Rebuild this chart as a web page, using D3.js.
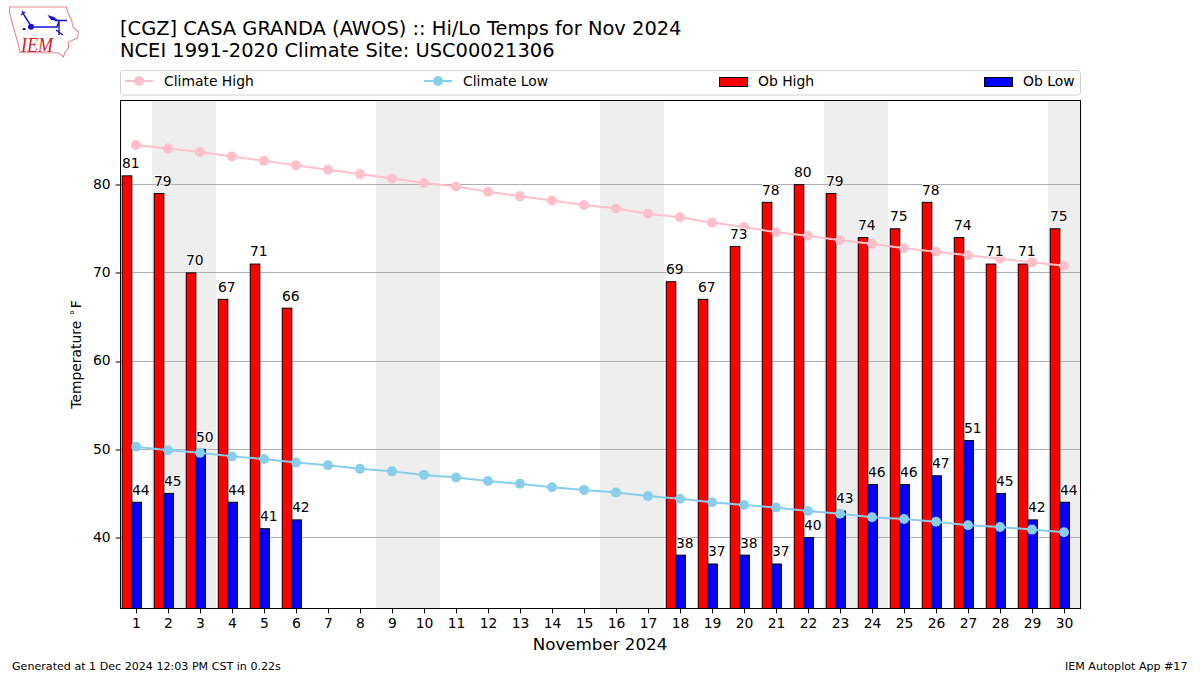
<!DOCTYPE html>
<html><head><meta charset="utf-8">
<script src="https://cdn.jsdelivr.net/npm/d3@7"></script>
<style>html,body{margin:0;padding:0;background:#fff}svg{display:block}text{font-family:"DejaVu Sans",sans-serif;fill:#000}</style>
</head><body><div id="chart"></div>
<script>
const days = d3.range(1, 31);
const obHigh = [81,79,70,67,71,66,null,null,null,null,null,null,null,null,null,null,null,69,67,73,78,80,79,74,75,78,74,71,71,75];
const obLow = [44,45,50,44,41,42,null,null,null,null,null,null,null,null,null,null,null,38,37,38,37,40,43,46,46,47,51,45,42,44];
const climateHigh = [84.5,84.1,83.7,83.2,82.7,82.2,81.7,81.2,80.7,80.2,79.8,79.2,78.7,78.2,77.7,77.3,76.7,76.3,75.7,75.2,74.6,74.2,73.7,73.3,72.8,72.4,72.0,71.6,71.2,70.8];
const climateLow = [50.3,49.9,49.6,49.2,48.9,48.5,48.2,47.8,47.5,47.1,46.8,46.4,46.1,45.7,45.4,45.1,44.7,44.4,44.0,43.7,43.4,43.0,42.7,42.3,42.1,41.8,41.4,41.2,40.9,40.6];
const weekendSpans = [[1.5,3.5],[8.5,10.5],[15.5,17.5],[22.5,24.5],[29.5,30.5]];
const yTicks = [40,50,60,70,80];
const titleLines = ["[CGZ] CASA GRANDA (AWOS) :: Hi/Lo Temps for Nov 2024","NCEI 1991-2020 Climate Site: USC00021306"];
const xLabel = "November 2024";
const footLeft = "Generated at 1 Dec 2024 12:03 PM CST in 0.22s", footRight = "IEM Autoplot App #17";
const colors = {high:"#ff0000",low:"#0000ff",cHigh:"#ffc0cb",cLow:"#87ceeb"};

const L=120.5,R=1080.5,T=100.5,B=608.5;
const svg=d3.select("#chart").append("svg").attr("width",1200).attr("height",675);
const x=d3.scaleLinear().domain([0.5,30.5]).range([120,1080]);
const y=d3.scaleLinear().domain([32,89.6]).range([608.1,100]);

// logo
const logo=svg.append("g");
logo.append("path").attr("fill","none").attr("stroke","#e58a92").attr("stroke-width",1.1)
 .attr("d","M9.5 7 L66.5 7 L68 13 L71.5 20 L73 27 L78.5 32 L77.5 38 L68.5 42 L68.5 48 L65 52 L63.5 57 L59 53 L20 52.5 L18 43 L15 33 L11.5 20 L9.5 12 Z");
logo.append("path").attr("fill","none").attr("stroke","#1414d2").attr("stroke-width",1.4)
 .attr("d","M22 11 L24 15 M21 15 L25 12 M24 15 L31 26 M31 27 H57 L59 21 M55 20.5 H67 M59 21 V35 M56 30 L63 35");
logo.append("circle").attr("cx",31).attr("cy",26.8).attr("r",3).attr("fill","#1414d2");
logo.append("path").attr("fill","#1414d2").attr("d","M47.5 15 L54 17 L59 21 L51 20 Z M23 28 L25 28 L26 30 L22.5 30 Z");
logo.append("text").attr("x",21).attr("y",52).style("font-family","'Liberation Serif',serif").attr("font-style","italic").attr("font-size",22).attr("textLength",32).attr("lengthAdjust","spacingAndGlyphs").style("fill","#d8202a").text("IEM");

// titles
svg.selectAll("text.title").data(titleLines).join("text").attr("class","title")
 .attr("x",120).attr("y",(d,i)=>35+i*22).attr("font-size",19.46).text(d=>d);

// plot background
svg.append("g").selectAll("rect").data(weekendSpans).join("rect")
 .attr("x",d=>x(d[0])).attr("width",d=>x(d[1])-x(d[0])).attr("y",T).attr("height",B-T).attr("fill","#eeeeee");

// grid
svg.append("g").selectAll("line").data(yTicks).join("line")
 .attr("x1",L).attr("x2",R).attr("y1",d=>Math.floor(y(d))+0.5).attr("y2",d=>Math.floor(y(d))+0.5)
 .attr("stroke","#b0b0b0").attr("stroke-width",1);

// bars
const barW=x(0.8)-x(0.5);
const bars=svg.append("g").attr("stroke","#000").attr("stroke-width",1);
const highD=days.map((d,i)=>({d,v:obHigh[i]})).filter(e=>e.v!=null);
const lowD=days.map((d,i)=>({d,v:obLow[i]})).filter(e=>e.v!=null);
bars.selectAll("rect.h").data(highD).join("rect").attr("class","h")
 .attr("x",e=>x(e.d-0.43)).attr("width",barW).attr("y",e=>y(e.v)).attr("height",e=>B-y(e.v)).attr("fill",colors.high);
bars.selectAll("rect.l").data(lowD).join("rect").attr("class","l")
 .attr("x",e=>x(e.d-0.13)).attr("width",barW).attr("y",e=>y(e.v)).attr("height",e=>B-y(e.v)).attr("fill",colors.low);

// climate lines
const line=d3.line().x((v,i)=>x(days[i])).y(v=>y(v));
[[climateHigh,colors.cHigh],[climateLow,colors.cLow]].forEach(([s,c])=>{
 const g=svg.append("g");
 g.append("path").attr("d",line(s)).attr("fill","none").attr("stroke",c).attr("stroke-width",2);
 g.selectAll("circle").data(s).join("circle").attr("cx",(v,i)=>x(days[i])).attr("cy",v=>y(v)).attr("r",5).attr("fill",c);
});

// value labels
const lab=svg.append("g").attr("font-size",13.9).attr("text-anchor","middle");
const halo=sel=>sel.style("paint-order","stroke").attr("stroke","#fff").attr("stroke-width",1.5).attr("stroke-linejoin","round");
lab.selectAll("text.h").data(highD).join("text").attr("class","h").call(halo)
 .attr("x",e=>x(e.d-0.16)).attr("y",e=>y(e.v)-7.6).text(e=>e.v);
lab.selectAll("text.l").data(lowD).join("text").attr("class","l").call(halo)
 .attr("x",e=>x(e.d+0.15)).attr("y",e=>y(e.v)-7.6).text(e=>e.v);

// frame
svg.append("rect").attr("x",L).attr("y",T).attr("width",R-L).attr("height",B-T).attr("fill","none").attr("stroke","#000").attr("stroke-width",1);

// axes
const xa=svg.append("g").attr("transform",`translate(0,${B})`).call(d3.axisBottom(x).tickValues(days).tickFormat(d3.format("d")).tickSize(4.9).tickPadding(4.9));
const ya=svg.append("g").attr("transform",`translate(${L},0)`).call(d3.axisLeft(y).tickValues(yTicks).tickFormat(d3.format("d")).tickSize(4.9).tickPadding(4.9));
[xa,ya].forEach(a=>{a.select(".domain").remove();a.selectAll("text").attr("font-size",13.9).style("font-family","'DejaVu Sans',sans-serif");a.selectAll("line").attr("stroke","#000");});
ya.selectAll("line").attr("y1",d=>Math.floor(y(d))+0.5-y(d)).attr("y2",d=>Math.floor(y(d))+0.5-y(d));
ya.selectAll("text").attr("y",-0.7);

svg.append("text").attr("x",600).attr("y",649.5).attr("text-anchor","middle").attr("font-size",16.7).text(xLabel);
const yl=svg.append("text").attr("transform","translate(81,354.5) rotate(-90)").attr("text-anchor","middle").attr("font-size",13.9);
yl.append("tspan").text("Temperature ");
yl.append("tspan").attr("font-size",11).attr("dy",-3).attr("dx",1).text("°");
yl.append("tspan").attr("dy",3).attr("dx",1.5).text("F");
svg.append("text").attr("x",12).attr("y",670).attr("font-size",11.1).text(footLeft);
svg.append("text").attr("x",1187.5).attr("y",670).attr("text-anchor","end").attr("font-size",11.1).text(footRight);

// legend
const leg=svg.append("g");
leg.append("rect").attr("x",L).attr("y",70.5).attr("width",R-L).attr("height",24.5).attr("rx",3).attr("fill","#fff").attr("stroke","#d0d0d0");
const legendItems=[{t:"Climate High",c:colors.cHigh,k:"l",x0:125},{t:"Climate Low",c:colors.cLow,k:"l",x0:424},{t:"Ob High",c:colors.high,k:"b",x0:719},{t:"Ob Low",c:colors.low,k:"b",x0:984}];
legendItems.forEach(it=>{
 if(it.k==="l"){
  leg.append("line").attr("x1",it.x0).attr("x2",it.x0+28).attr("y1",81).attr("y2",81).attr("stroke",it.c).attr("stroke-width",2);
  leg.append("circle").attr("cx",it.x0+14).attr("cy",81).attr("r",5).attr("fill",it.c);
 } else {
  leg.append("rect").attr("x",it.x0+0.5).attr("y",77.5).attr("width",28).attr("height",9).attr("fill",it.c).attr("stroke","#000");
 }
 leg.append("text").attr("x",it.x0+39).attr("y",86).attr("font-size",13.9).text(it.t);
});
</script></body></html>
